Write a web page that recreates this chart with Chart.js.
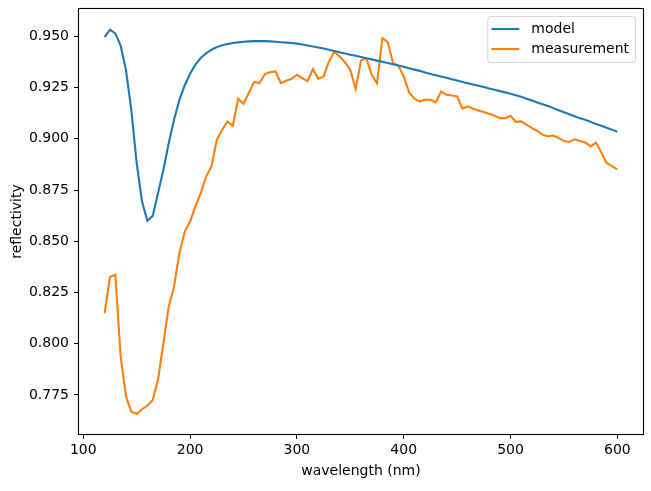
<!DOCTYPE html>
<html>
<head>
<meta charset="utf-8">
<script src="https://cdn.jsdelivr.net/npm/chart.js@4.4.0/dist/chart.umd.min.js"></script>
<style>
html, body { margin: 0; padding: 0; background: #fff; }
</style>
</head>
<body>
<canvas id="reflChart" width="651" height="491"></canvas>
<script>
"use strict";

// wavelength grid (nm)
var wavelength = [
    120, 125, 130, 135, 140, 145, 150, 155, 160, 165, 170, 175, 180, 185, 190, 195,
    200, 205, 210, 215, 220, 225, 230, 235, 240, 245, 250, 255, 260, 265, 270, 275,
    280, 285, 290, 295, 300, 305, 310, 315, 320, 325, 330, 335, 340, 345, 350, 355,
    360, 365, 370, 375, 380, 385, 390, 395, 400, 405, 410, 415, 420, 425, 430, 435,
    440, 445, 450, 455, 460, 465, 470, 475, 480, 485, 490, 495, 500, 505, 510, 515,
    520, 525, 530, 535, 540, 545, 550, 555, 560, 565, 570, 575, 580, 585, 590, 595,
    600
];

var modelRefl = [
    0.9497, 0.9533, 0.9515, 0.9455, 0.9335, 0.9140, 0.8882, 0.8694, 0.8600, 0.8624, 0.8735, 0.8849, 0.8979, 0.9095, 0.9190, 0.9262,
    0.9318, 0.9362, 0.9395, 0.9418, 0.9435, 0.9448, 0.9457, 0.9463, 0.9468, 0.9471, 0.9474, 0.9476, 0.9477, 0.9477, 0.9477, 0.9476,
    0.9474, 0.9472, 0.9470, 0.9468, 0.9465, 0.9461, 0.9456, 0.9451, 0.9446, 0.9441, 0.9435, 0.9429, 0.9423, 0.9417, 0.9411, 0.9406,
    0.9400, 0.9394, 0.9388, 0.9382, 0.9376, 0.9370, 0.9364, 0.9358, 0.9352, 0.9345, 0.9338, 0.9332, 0.9324, 0.9317, 0.9311, 0.9304,
    0.9298, 0.9291, 0.9285, 0.9278, 0.9272, 0.9265, 0.9259, 0.9253, 0.9246, 0.9240, 0.9233, 0.9227, 0.9220, 0.9213, 0.9205, 0.9196,
    0.9187, 0.9178, 0.9169, 0.9160, 0.9150, 0.9140, 0.9130, 0.9120, 0.9110, 0.9100, 0.9093, 0.9083, 0.9073, 0.9064, 0.9054, 0.9045,
    0.9035
];

var measuredRefl = [
    0.8149, 0.8325, 0.8336, 0.7937, 0.7741, 0.7668, 0.7657, 0.7680, 0.7697, 0.7725, 0.7826, 0.8002, 0.8181, 0.8279, 0.8442, 0.8547,
    0.8596, 0.8670, 0.8735, 0.8816, 0.8865, 0.8995, 0.9044, 0.9085, 0.9064, 0.9196, 0.9171, 0.9224, 0.9278, 0.9272, 0.9316, 0.9326,
    0.9329, 0.9272, 0.9284, 0.9293, 0.9313, 0.9297, 0.9282, 0.9341, 0.9293, 0.9305, 0.9378, 0.9424, 0.9402, 0.9375, 0.9337, 0.9243,
    0.9383, 0.9394, 0.9313, 0.9272, 0.9492, 0.9472, 0.9370, 0.9357, 0.9305, 0.9227, 0.9196, 0.9183, 0.9191, 0.9191, 0.9178, 0.9231,
    0.9215, 0.9212, 0.9207, 0.9147, 0.9158, 0.9147, 0.9139, 0.9131, 0.9122, 0.9113, 0.9101, 0.9101, 0.9113, 0.9083, 0.9085, 0.9069,
    0.9052, 0.9039, 0.9020, 0.9013, 0.9016, 0.9005, 0.8989, 0.8985, 0.8998, 0.8989, 0.8982, 0.8963, 0.8982, 0.8933, 0.8882, 0.8867,
    0.8851
];

var xTicks = [100, 200, 300, 400, 500, 600];
var yTicks = [0.775, 0.800, 0.825, 0.850, 0.875, 0.900, 0.925, 0.950];

var blue = "#1f77b4";
var orange = "#ff7f0e";
var fontFamily = "'DejaVu Sans', sans-serif";

function toPoints(xs, ys) {
    return xs.map(function (x, i) { return { x: x, y: ys[i] }; });
}

// black frame around the plot area (all four spines)
var framePlugin = {
    id: "frame",
    afterDatasetsDraw: function (chart) {
        var a = chart.chartArea;
        var ctx = chart.ctx;
        ctx.save();
        ctx.strokeStyle = "#000";
        ctx.lineWidth = 1.1;
        ctx.strokeRect(Math.round(a.left) - 0.5, Math.round(a.top) - 0.5,
            Math.round(a.right - a.left) + 1, Math.round(a.bottom - a.top) + 1);
        ctx.restore();
    }
};

// matplotlib-like legend box in the upper right corner
var legendPlugin = {
    id: "boxLegend",
    afterDraw: function (chart) {
        var a = chart.chartArea;
        var ctx = chart.ctx;
        var sets = chart.data.datasets;
        ctx.save();
        ctx.font = "14px " + fontFamily;
        var textW = 0;
        sets.forEach(function (ds) { textW = Math.max(textW, ctx.measureText(ds.label).width); });
        var w = 4 + 28 + 12 + textW + 6;
        var h = 46;
        var x = a.right - 8 - w;
        var y = a.top + 7;
        ctx.beginPath();
        ctx.roundRect(x + 0.5, y + 0.5, w, h, 3);
        ctx.fillStyle = "rgba(255,255,255,0.8)";
        ctx.fill();
        ctx.strokeStyle = "rgba(204,204,204,0.8)";
        ctx.lineWidth = 1;
        ctx.stroke();
        sets.forEach(function (ds, i) {
            var ly = y + 13 + i * 20;
            ctx.beginPath();
            ctx.moveTo(x + 4, ly);
            ctx.lineTo(x + 32, ly);
            ctx.strokeStyle = ds.borderColor;
            ctx.lineWidth = 2.1;
            ctx.stroke();
            ctx.fillStyle = "#000";
            ctx.textBaseline = "middle";
            ctx.fillText(ds.label, x + 44, ly);
        });
        ctx.restore();
    }
};

var REFL = document.getElementById("reflChart");
var reflChart = new Chart(REFL, {
    type: "line",
    plugins: [framePlugin, legendPlugin],
    data: {
        datasets: [
            {
                label: "model",
                data: toPoints(wavelength, modelRefl),
                borderColor: blue,
                backgroundColor: blue,
                borderWidth: 2.1,
                pointRadius: 0,
                tension: 0,
                fill: false,
            },
            {
                label: "measurement",
                data: toPoints(wavelength, measuredRefl),
                borderColor: orange,
                backgroundColor: orange,
                borderWidth: 2.1,
                pointRadius: 0,
                tension: 0,
                fill: false,
            },
        ],
    },
    options: {
        responsive: false,
        animation: false,
        layout: { padding: { top: 9, right: 8, left: 0, bottom: 0 } },
        plugins: {
            legend: { display: false },
            tooltip: { enabled: false },
        },
        scales: {
            x: {
                type: "linear",
                min: 96,
                max: 624,
                afterBuildTicks: function (scale) {
                    scale.ticks = xTicks.map(function (v) { return { value: v }; });
                },
                afterFit: function (scale) {
                    scale.height = 57;
                    scale.paddingLeft = 0;
                    scale.paddingRight = 0;
                },
                ticks: {
                    color: "#000",
                    font: { family: fontFamily, size: 14 },
                    padding: 3,
                    maxRotation: 0,
                    callback: function (v) { return String(v); },
                },
                grid: { display: true, drawOnChartArea: false, drawTicks: true, tickLength: 5, tickColor: "#000" },
                border: { display: false },
                title: {
                    display: true,
                    text: "wavelength (nm)",
                    color: "#000",
                    font: { family: fontFamily, size: 14 },
                    padding: { top: 0, bottom: 11 },
                },
            },
            y: {
                type: "linear",
                min: 0.7559,
                max: 0.9634,
                afterBuildTicks: function (scale) {
                    scale.ticks = yTicks.map(function (v) { return { value: v }; });
                },
                afterFit: function (scale) {
                    scale.width = 79;
                    scale.paddingTop = 0;
                    scale.paddingBottom = 0;
                },
                ticks: {
                    color: "#000",
                    font: { family: fontFamily, size: 14 },
                    padding: 5,
                    callback: function (v) { return Number(v).toFixed(3); },
                },
                grid: { display: true, drawOnChartArea: false, drawTicks: true, tickLength: 5, tickColor: "#000" },
                border: { display: false },
                title: {
                    display: true,
                    text: "reflectivity",
                    color: "#000",
                    font: { family: fontFamily, size: 14 },
                    padding: { top: 9, bottom: 4 },
                },
            },
        },
    },
});
</script>
</body>
</html>
